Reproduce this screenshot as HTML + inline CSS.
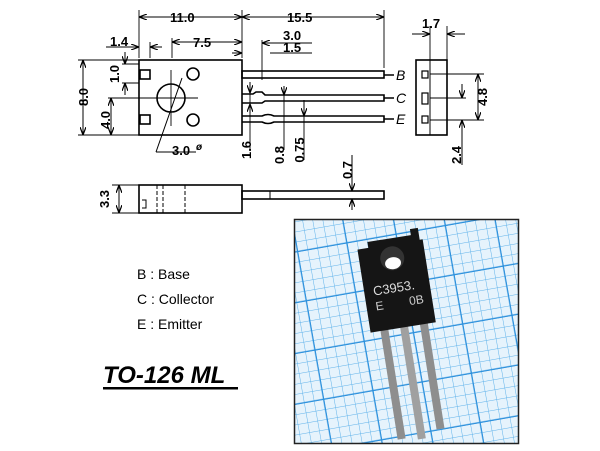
<!DOCTYPE html>
<html><head><meta charset="utf-8"><style>
html,body{margin:0;padding:0;background:#fff;width:600px;height:451px;overflow:hidden}
svg text{font-family:"Liberation Sans",sans-serif}
</style></head><body>
<svg width="600" height="451" viewBox="0 0 600 451" xmlns="http://www.w3.org/2000/svg">
<defs>
<marker id="a" markerWidth="8" markerHeight="6" refX="8" refY="3" orient="auto-start-reverse" markerUnits="userSpaceOnUse"><path d="M0,0 L8,3 L0,6" fill="none" stroke="#000" stroke-width="1.2"/></marker>
<pattern id="g1" width="10" height="10" patternUnits="userSpaceOnUse" patternTransform="rotate(-10)"><path d="M10 0V10M0 10H10" stroke="#5fb2ea" stroke-width="1" fill="none"/></pattern>
<pattern id="g2" width="50" height="50" patternUnits="userSpaceOnUse" patternTransform="rotate(-10)"><path d="M50 0V50M0 50H50" stroke="#2a8fdc" stroke-width="2.5" fill="none"/></pattern>
</defs>
<g stroke="#000" stroke-width="1.6" fill="none">
<rect x="139" y="60" width="103" height="75"/>
<rect x="140" y="70" width="10" height="9"/>
<rect x="140" y="115" width="10" height="9"/>
<circle cx="171" cy="98" r="14"/>
<circle cx="193" cy="74" r="6"/>
<circle cx="193" cy="120" r="6"/>
<rect x="242" y="71" width="142" height="7"/>
<path d="M242 94 H253 L256 92 H262 L265 95 H384 V101 H265 L262 103 H242"/>
<path d="M242 116 H262 Q268 113 274 116 H384 V122 H274 Q268 125 262 122 H242"/>
<path d="M384 75 H394 M384 98 H394 M384 119 H394"/>
<path d="M108 98 H198 M171 70 V126" stroke-width="0.9"/>
<path d="M139 10 V58 M242 10 V58 M384 10 V68 M150 42 V58 M172 38 V58" stroke-width="0.9"/>
<path d="M139 17 H242" marker-start="url(#a)" marker-end="url(#a)" stroke-width="1"/>
<path d="M242 17 H384" marker-start="url(#a)" marker-end="url(#a)" stroke-width="1"/>
<path d="M172 42 H242" marker-start="url(#a)" marker-end="url(#a)" stroke-width="1"/>
<path d="M106 47 H139" marker-end="url(#a)" stroke-width="1"/>
<path d="M162 47 H150" marker-end="url(#a)" stroke-width="1"/>
<path d="M270 43 H312" stroke-width="1"/>
<path d="M270 43 L262 43" marker-end="url(#a)" stroke-width="1"/>
<path d="M270 53 H312 M232 53 H242" stroke-width="1"/>
<path d="M232 53 L242 53" marker-end="url(#a)" stroke-width="1"/>
<path d="M262 40 V80" stroke-width="0.9"/>
<path d="M78 60 H139 M78 135 H139 M108 98 H139" stroke-width="0.9"/>
<path d="M83 60 V135" marker-start="url(#a)" marker-end="url(#a)" stroke-width="1"/>
<path d="M111 98 V135" marker-start="url(#a)" marker-end="url(#a)" stroke-width="1"/>
<path d="M122 64 H139 M122 83 H139" stroke-width="0.9"/>
<path d="M125 52 V64" marker-end="url(#a)" stroke-width="1"/>
<path d="M125 95 V83" marker-end="url(#a)" stroke-width="1"/>
<path d="M156 152 L182 78 M156 152 H196" stroke-width="1"/>
<path d="M250 85 V150" stroke-width="0.9"/>
<path d="M250 82 V93" marker-end="url(#a)" stroke-width="1"/>
<path d="M250 113 V104" marker-end="url(#a)" stroke-width="1"/>
<path d="M284 95 V150" stroke-width="0.9"/>
<path d="M284 86 V95" marker-end="url(#a)" stroke-width="1"/>
<path d="M304 104 V160" stroke-width="0.9"/>
<path d="M304 100 V116" marker-end="url(#a)" stroke-width="1"/>
<rect x="416" y="60" width="31" height="75"/>
<path d="M430 60 V135" stroke-width="1"/>
<rect x="422" y="71" width="6" height="7" stroke-width="1.2"/>
<rect x="422" y="93" width="6" height="11" stroke-width="1.2"/>
<rect x="422" y="116" width="6" height="7" stroke-width="1.2"/>
<path d="M430 74 H484 M430 98 H466 M430 120 H484" stroke-width="0.9"/>
<path d="M430 26 V60 M447 26 V60" stroke-width="0.9"/>
<path d="M412 34 H430" marker-end="url(#a)" stroke-width="1"/>
<path d="M465 34 H447" marker-end="url(#a)" stroke-width="1"/>
<path d="M478 74 V120" marker-start="url(#a)" marker-end="url(#a)" stroke-width="1"/>
<path d="M462 84 V98" marker-end="url(#a)" stroke-width="1"/>
<path d="M462 165 V120" marker-end="url(#a)" stroke-width="1"/>
<rect x="139" y="185" width="103" height="28"/>
<path d="M157 185 V213 M163 185 V213 M185 185 V213" stroke-dasharray="4 2" stroke-width="1"/>
<rect x="242" y="191" width="142" height="8"/>
<path d="M270 191 V199" stroke-width="1"/>
<path d="M112 185 H139 M112 213 H139" stroke-width="0.9"/>
<path d="M119 185 V213" marker-start="url(#a)" marker-end="url(#a)" stroke-width="1"/>
<path d="M352 155 V191" marker-end="url(#a)" stroke-width="1"/>
<path d="M352 210 V199" marker-end="url(#a)" stroke-width="1"/>
<path d="M142 200 H146 V208 H142" stroke-width="1"/>
</g>
<g font-size="13" font-weight="bold" fill="#000">
<text x="170" y="22">11.0</text>
<text x="287" y="22">15.5</text>
<text x="193" y="47">7.5</text>
<text x="283" y="40">3.0</text>
<text x="283" y="52">1.5</text>
<text x="110" y="46">1.4</text>
<text x="172" y="155">3.0</text>
<text x="422" y="28">1.7</text>
<text x="196" y="150" font-size="10" font-style="italic">ø</text>
<text transform="translate(88,97) rotate(-90)" text-anchor="middle">8.0</text>
<text transform="translate(113,120) rotate(-90)" text-anchor="middle" dy="-3">4.0</text>
<text transform="translate(119,74) rotate(-90)" text-anchor="middle">1.0</text>
<text transform="translate(251,150) rotate(-90)" text-anchor="middle">1.6</text>
<text transform="translate(284,155) rotate(-90)" text-anchor="middle">0.8</text>
<text transform="translate(304,150) rotate(-90)" text-anchor="middle">0.75</text>
<text transform="translate(352,170) rotate(-90)" text-anchor="middle">0.7</text>
<text transform="translate(487,97) rotate(-90)" text-anchor="middle">4.8</text>
<text transform="translate(461,155) rotate(-90)" text-anchor="middle">2.4</text>
<text transform="translate(109,199) rotate(-90)" text-anchor="middle">3.3</text>
<text x="396" y="80" font-style="italic" font-weight="normal" font-size="14">B</text>
<text x="396" y="103" font-style="italic" font-weight="normal" font-size="14">C</text>
<text x="396" y="124" font-style="italic" font-weight="normal" font-size="14">E</text>
</g>
<g font-size="14" fill="#000">
<text x="137" y="279">B : Base</text>
<text x="137" y="304">C : Collector</text>
<text x="137" y="329">E : Emitter</text>
</g>
<text x="103" y="383" font-size="24" font-weight="bold" font-style="italic">TO-126 ML</text>
<rect x="103" y="387" width="135" height="2.5" fill="#000"/>
<g>
<rect x="294" y="219" width="225" height="225" fill="#e6f3fc"/>
<rect x="294" y="219" width="225" height="225" fill="url(#g1)"/>
<rect x="294" y="219" width="225" height="225" fill="url(#g2)"/>
<g transform="translate(396,282) rotate(-9)">
<rect x="-23" y="44" width="8" height="112" fill="#8e8e8e"/>
<rect x="-3" y="44" width="8" height="115" fill="#a0a0a0"/>
<rect x="17" y="44" width="8" height="108" fill="#8e8e8e"/>
<path d="M-33 -38 H-22 V-44 H22 V-50 H30 V-38 H33 V46 H-33 Z" fill="#151515"/>
<circle cx="0" cy="-24" r="12" fill="#333"/>
<ellipse cx="0" cy="-19" rx="8" ry="6" fill="#fff"/>
<text x="-24" y="10" font-size="13" fill="#ddd">C3953.</text>
<text x="-24" y="25" font-size="12" fill="#ccc">E</text>
<text x="10" y="25" font-size="12" fill="#ccc">0B</text>
</g>
<rect x="294.5" y="219.5" width="224" height="224" fill="none" stroke="#222" stroke-width="1.5"/>
</g>
</svg>
</body></html>
